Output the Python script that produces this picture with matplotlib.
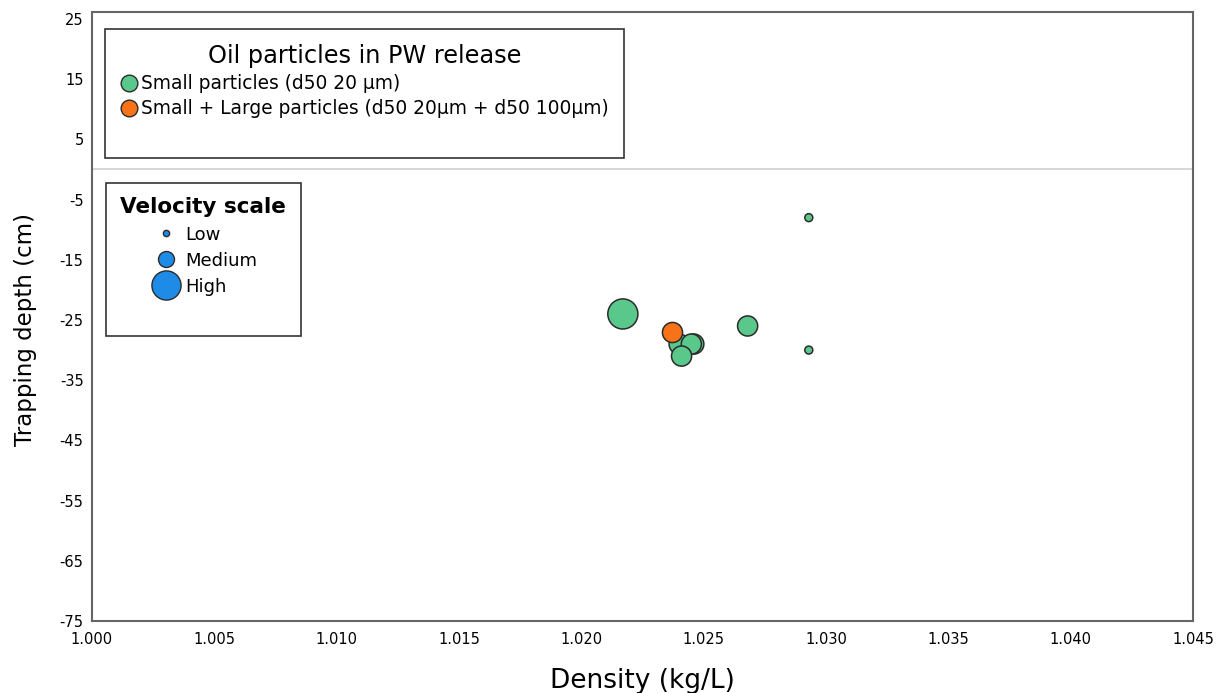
import matplotlib
matplotlib.use("Agg")
import matplotlib.pyplot as plt
from matplotlib.lines import Line2D

plt.rcParams["axes.unicode_minus"] = False

# --- data ---
small_density = [1.0217, 1.0240, 1.0246, 1.0245, 1.0241, 1.0268, 1.0293, 1.0293]
small_depth = [-24, -29, -29, -29, -31, -26, -8, -30]
small_speed = ["High", "Medium", "Medium", "Medium", "Medium", "Medium", "Low", "Low"]

mixed_density = [1.0237]
mixed_depth = [-27]
mixed_speed = ["Medium"]

speed_levels = ["Low", "Medium", "High"]
speed_area = {"Low": 33, "Medium": 210, "High": 470}
legend_size = {"Low": 4.5, "Medium": 11.5, "High": 21}

green = "#5AC88A"
orange = "#F87318"
blue = "#1E8CE6"
edge = "#2b2b2b"

fig = plt.figure(figsize=(12.26, 6.93), dpi=100)
ax = fig.add_axes([0.075, 0.104, 0.898, 0.879])

ax.scatter(small_density, small_depth, s=[speed_area[v] for v in small_speed],
           c=green, edgecolors=edge, linewidths=1.1, zorder=3)
ax.scatter(mixed_density, mixed_depth, s=[speed_area[v] for v in mixed_speed],
           c=orange, edgecolors=edge, linewidths=1.1, zorder=3)

ax.axhline(0, color="#d0d0d0", lw=1.2, zorder=1)

ax.set_xlim(1.000, 1.045)
ax.set_ylim(-75, 26.2)
ax.set_xticks([1.000 + 0.005 * i for i in range(10)])
ax.set_xticklabels(["%.3f" % (1.000 + 0.005 * i) for i in range(10)])
ax.set_yticks(list(range(-75, 26, 10)))
ax.tick_params(axis="x", length=0, labelsize=10.5, pad=8)
ax.tick_params(axis="y", length=0, labelsize=10.5, pad=6)
for sp in ax.spines.values():
    sp.set_color("#666666")
    sp.set_linewidth(1.5)

ax.set_xlabel("Density (kg/L)", fontsize=19)
ax.xaxis.set_label_coords(0.5, -0.077)
ax.set_ylabel("Trapping depth (cm)", fontsize=16.5)
ax.yaxis.set_label_coords(-0.05, 0.478)

# legend for particle type
blank = Line2D([], [], ls="", marker="")
type_handles = [
    Line2D([], [], marker="o", ls="", markersize=12, markerfacecolor=green, markeredgecolor=edge),
    Line2D([], [], marker="o", ls="", markersize=12, markerfacecolor=orange, markeredgecolor=edge),
    blank,
]
leg1 = fig.legend(type_handles,
                  ["Small particles (d50 20 μm)",
                   "Small + Large particles (d50 20μm + d50 100μm)", " "],
                  title="Oil particles in PW release", loc="upper left",
                  bbox_to_anchor=(0.0856, 0.958), fontsize=13.4,
                  title_fontsize=17.3, handletextpad=0.15, handlelength=1.0,
                  labelspacing=0.33, borderpad=0.8, borderaxespad=0,
                  fancybox=False, edgecolor="#333333", framealpha=1)
leg1.get_frame().set_linewidth(1.2)

# legend for velocity scale
speed_handles = [Line2D([], [], marker="o", ls="", markersize=legend_size[v],
                        markerfacecolor=blue, markeredgecolor=edge)
                 for v in speed_levels]
speed_handles.append(blank)
leg2 = fig.legend(speed_handles, speed_levels + [" "], title="Velocity scale",
                  loc="upper left", bbox_to_anchor=(0.0865, 0.736),
                  fontsize=13, title_fontproperties={"size": 15.5, "weight": "bold"},
                  handletextpad=0.16, handlelength=1.77, labelspacing=0.45,
                  borderpad=0.8, borderaxespad=0,
                  fancybox=False, edgecolor="#333333", framealpha=1)
leg2.get_frame().set_linewidth(1.2)

fig.savefig("out.png", dpi=100)
